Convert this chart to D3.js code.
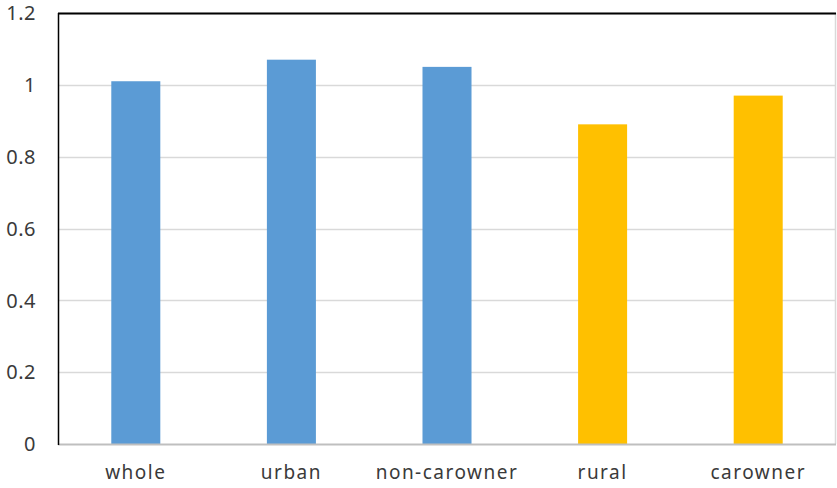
<!DOCTYPE html>
<html>
<head>
<meta charset="utf-8">
<script src="https://cdn.jsdelivr.net/npm/d3@7"></script>
<style>
  body { margin: 0; background: #fff; }
  svg { display: block; }
  text { font-family: "Noto Sans", "Liberation Sans", sans-serif; fill: #3a3a3a; }
</style>
</head>
<body>
<svg id="chart" width="837" height="488"></svg>
<script>
const categories = ["whole", "urban", "non-carowner", "rural", "carowner"];
const values = [1.01, 1.07, 1.05, 0.89, 0.97];
const groups = ["blue", "blue", "blue", "orange", "orange"];
const yTicks = [0, 0.2, 0.4, 0.6, 0.8, 1, 1.2];

const width = 837;
const height = 488;
const margin = { top: 13, right: 1, bottom: 44, left: 58 };

const colors = { blue: "#5b9bd5", orange: "#ffc000" };

const svg = d3.select("#chart");

const x = d3.scaleBand()
  .domain(categories)
  .range([margin.left, width - margin.right])
  .paddingInner(0.685)
  .paddingOuter(0.3425);

const y = d3.scaleLinear()
  .domain([0, 1.2])
  .range([height - margin.bottom, margin.top]);

// gridlines
svg.append("g")
  .selectAll("line")
  .data(yTicks.slice(1))
  .join("line")
  .attr("x1", margin.left)
  .attr("x2", width - margin.right)
  .attr("y1", d => Math.round(y(d)) + 0.5)
  .attr("y2", d => Math.round(y(d)) + 0.5)
  .attr("stroke", "#d9d9d9")
  .attr("stroke-width", 1.5);

// right border
svg.append("line")
  .attr("x1", width - margin.right - 0.5)
  .attr("x2", width - margin.right - 0.5)
  .attr("y1", margin.top)
  .attr("y2", y(0))
  .attr("stroke", "#d9d9d9")
  .attr("stroke-width", 1.5);

// bars
svg.append("g")
  .selectAll("rect")
  .data(categories)
  .join("rect")
  .attr("x", d => x(d))
  .attr("width", x.bandwidth())
  .attr("y", (d, i) => y(values[i]))
  .attr("height", (d, i) => y(0) - y(values[i]))
  .attr("fill", (d, i) => colors[groups[i]]);

// x axis line
svg.append("line")
  .attr("x1", margin.left)
  .attr("x2", width - margin.right)
  .attr("y1", Math.round(y(0)) + 0.5)
  .attr("y2", Math.round(y(0)) + 0.5)
  .attr("stroke", "#bfbfbf")
  .attr("stroke-width", 2);

// top border (black)
svg.append("line")
  .attr("x1", margin.left)
  .attr("x2", width - margin.right)
  .attr("y1", margin.top + 0.5)
  .attr("y2", margin.top + 0.5)
  .attr("stroke", "#000")
  .attr("stroke-width", 2);

// y axis line (black)
svg.append("line")
  .attr("x1", margin.left + 0.5)
  .attr("x2", margin.left + 0.5)
  .attr("y1", margin.top)
  .attr("y2", y(0) + 1)
  .attr("stroke", "#000")
  .attr("stroke-width", 1.5);

// y tick labels
svg.append("g")
  .selectAll("text")
  .data(yTicks)
  .join("text")
  .attr("x", 36)
  .attr("y", d => y(d))
  .attr("dy", "0.36em")
  .attr("text-anchor", "end")
  .attr("font-size", 20)
  .attr("letter-spacing", 0.5)
  .text(d => d3.format("~g")(d));

// x tick labels
svg.append("g")
  .selectAll("text")
  .data(categories)
  .join("text")
  .attr("x", d => x(d) + x.bandwidth() / 2)
  .attr("y", 479)
  .attr("text-anchor", "middle")
  .attr("font-size", 19)
  .attr("letter-spacing", 1.5)
  .text(d => d);
</script>
</body>
</html>
